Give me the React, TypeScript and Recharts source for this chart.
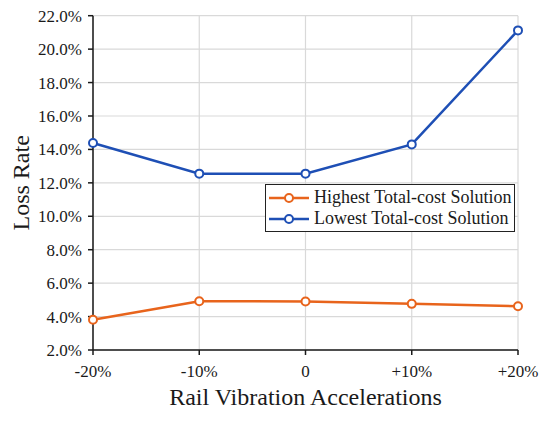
import React from "react";
import { LineChart, Line, XAxis, YAxis, CartesianGrid, Legend } from "recharts";

const categories = ["-20%", "-10%", "0", "+10%", "+20%"];
const highestCost = [3.81, 4.92, 4.9, 4.76, 4.62];
const lowestCost = [14.38, 12.55, 12.55, 14.3, 21.12];
const yTicks = [2, 4, 6, 8, 10, 12, 14, 16, 18, 20, 22];

const ORANGE = "#e8641c";
const BLUE = "#1e4fb5";
const FONT = "'Times New Roman', 'Liberation Serif', serif";

const data = categories.map((c, i) => ({ cat: c, high: highestCost[i], low: lowestCost[i] }));

const legendItems = [
  { label: "Highest Total-cost Solution", color: ORANGE },
  { label: "Lowest Total-cost Solution", color: BLUE },
];

function LegendBox() {
  return (
    <div
      style={{
        boxSizing: "border-box",
        width: 250,
        border: "1.5px solid #222",
        background: "#fff",
        padding: "2px 0 2px 3px",
        fontFamily: FONT,
        fontSize: 18,
        color: "#1a1a1a",
        lineHeight: "21px",
        whiteSpace: "nowrap",
      }}
    >
      {legendItems.map((it) => (
        <div key={it.label} style={{ display: "flex", alignItems: "center" }}>
          <svg width={42} height={14} style={{ marginRight: 3, flexShrink: 0 }}>
            <line x1={0} y1={7} x2={40} y2={7} stroke={it.color} strokeWidth={2.5} />
            <circle cx={20} cy={7} r={4} fill="#fff" stroke={it.color} strokeWidth={2} />
          </svg>
          <span>{it.label}</span>
        </div>
      ))}
    </div>
  );
}

export default function App() {
  const tick = { fontSize: 17, fill: "#1a1a1a", fontFamily: FONT };
  return (
    <div style={{ position: "absolute", left: 0, top: 0, width: 550, height: 425, background: "#fff", fontFamily: FONT }}>
      <LineChart width={550} height={425} data={data} margin={{ top: 15.7, right: 32, left: 0, bottom: 0 }}>
        <CartesianGrid stroke="#d9d9d9" strokeWidth={1.2} />
        <XAxis
          dataKey="cat"
          height={75}
          tick={tick}
          tickSize={5}
          tickMargin={10}
          axisLine={{ stroke: "#1a1a1a", strokeWidth: 1.5 }}
          tickLine={{ stroke: "#1a1a1a", strokeWidth: 1.5 }}
          label={{ value: "Rail Vibration Accelerations", position: "insideBottom", offset: 20.5, style: { fontSize: 24, fill: "#1a1a1a", fontFamily: FONT } }}
        />
        <YAxis
          type="number"
          domain={[2, 22]}
          ticks={yTicks}
          interval={0}
          width={93}
          tick={tick}
          tickSize={5}
          tickMargin={6}
          tickFormatter={(v: number) => `${v.toFixed(1)}%`}
          axisLine={{ stroke: "#1a1a1a", strokeWidth: 1.5 }}
          tickLine={{ stroke: "#1a1a1a", strokeWidth: 1.5 }}
          label={{ value: "Loss Rate", angle: -90, position: "insideLeft", offset: 20, textAnchor: "middle", style: { fontSize: 24, fill: "#1a1a1a", fontFamily: FONT, textAnchor: "middle" } }}
        />
        <Legend
          layout="vertical"
          align="center"
          verticalAlign="middle"
          content={() => <LegendBox />}
          wrapperStyle={{ left: 265, top: 184, width: 250 }}
        />
        <Line
          dataKey="high"
          stroke={ORANGE}
          strokeWidth={2.5}
          dot={{ r: 4, fill: "#fff", stroke: ORANGE, strokeWidth: 2 }}
          isAnimationActive={false}
        />
        <Line
          dataKey="low"
          stroke={BLUE}
          strokeWidth={2.5}
          dot={{ r: 4, fill: "#fff", stroke: BLUE, strokeWidth: 2 }}
          isAnimationActive={false}
        />
      </LineChart>
    </div>
  );
}
